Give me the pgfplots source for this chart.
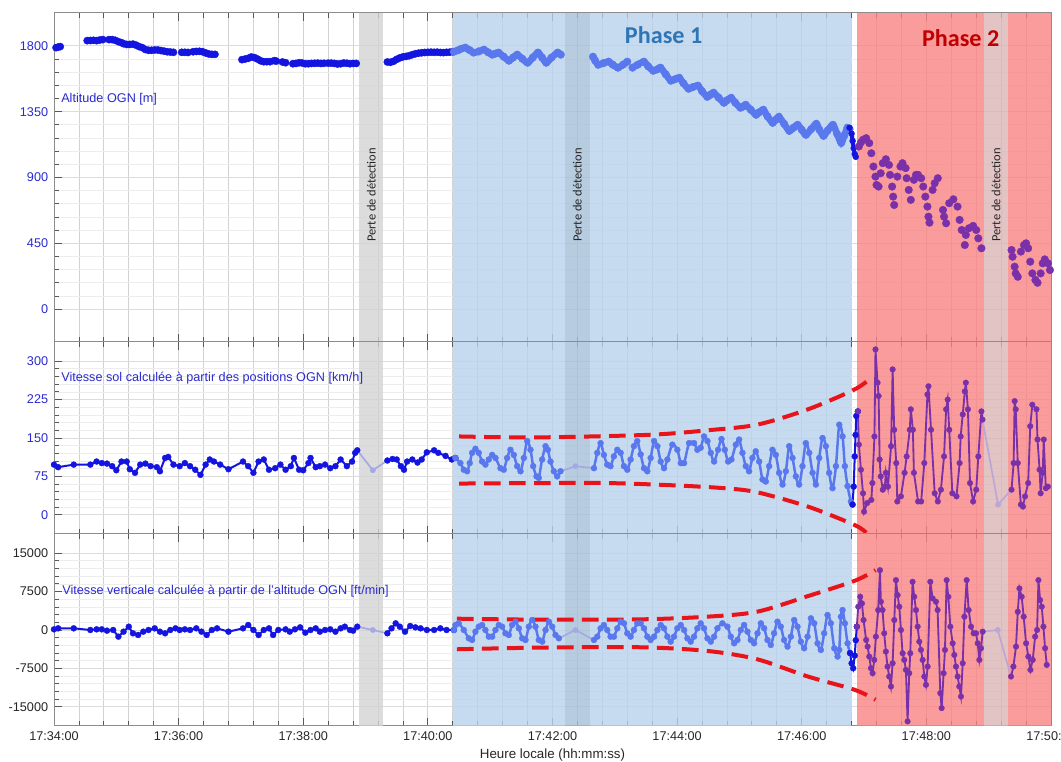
\documentclass[border=0pt]{standalone}
\usepackage{fontspec}
\setmainfont{Liberation Sans}
\newfontfamily\calib{Carlito}
\usepackage{pgfplots}
\pgfplotsset{compat=1.18}

\definecolor{preblue}{HTML}{1414E0}
\definecolor{ponebl}{HTML}{5A78EE}
\definecolor{ptwopu}{HTML}{7A30A8}
\definecolor{gapblue}{HTML}{A4A8E4}
\definecolor{gappu}{HTML}{BBA6D6}
\definecolor{phaseone}{HTML}{B8D2EC}
\definecolor{phasetwo}{HTML}{F98383}
\definecolor{lossgray}{HTML}{D3D3D3}
\definecolor{lossblue}{HTML}{A6BFD8}
\definecolor{lossred}{HTML}{DBB5B5}
\definecolor{labblue}{HTML}{2A2ACF}
\definecolor{envred}{HTML}{E8141A}
\definecolor{titleone}{HTML}{2E75B6}
\definecolor{titletwo}{HTML}{C00000}
\definecolor{framegray}{HTML}{8C8C8C}
\definecolor{gridv}{HTML}{D2D2D2}
\definecolor{gridh}{HTML}{DCDCDC}
\definecolor{gridm}{HTML}{EDEDED}

% time axis: seconds after 17:34:00
% shaded phases, translucent so that the grid stays visible
\newcommand{\bands}[2]{%
  \fill[phaseone, opacity=0.8] (axis cs:384.6,#1) rectangle (axis cs:492.5,#2);
  \fill[phaseone, opacity=0.8] (axis cs:515.7,#1) rectangle (axis cs:767,#2);
  \fill[phasetwo, opacity=0.8] (axis cs:773,#1) rectangle (axis cs:895.4,#2);
  \fill[phasetwo, opacity=0.8] (axis cs:918.5,#1) rectangle (axis cs:960,#2);
  \fill[lossgray, opacity=0.8] (axis cs:294,#1) rectangle (axis cs:317,#2);
  \fill[lossblue, opacity=0.8] (axis cs:492.5,#1) rectangle (axis cs:515.7,#2);
  \fill[lossred, opacity=0.8] (axis cs:895.4,#1) rectangle (axis cs:918.5,#2);
}

\tikzset{
  lab/.style={anchor=west, inner sep=0pt, font=\fontsize{7.6}{9}\selectfont, text=labblue},
  loss/.style={rotate=90, font=\calib\fontsize{7.5}{9}\selectfont, text=black!85},
}

\pgfplotsset{
  panel/.style={
    scale only axis, width=598.2pt,
    xmin=0, xmax=960,
    xtick={0,120,...,960},
    minor x tick num=4, minor y tick num=4,
    xmajorgrids, xminorgrids, ymajorgrids, yminorgrids,
    major x grid style={draw=gridv, line width=0.5pt},
    minor x grid style={draw=gridv, line width=0.5pt},
    major y grid style={draw=gridh, line width=0.55pt},
    minor y grid style={draw=gridm, line width=0.45pt},
    axis line style={draw=framegray, line width=0.6pt},
    tick align=inside, xtick pos=both, ytick pos=left,
    major tick length=5pt, minor tick length=3pt,
    tick style={draw=black!65, line width=0.5pt},
    /pgf/number format/assume math mode=true,
    /pgf/number format/1000 sep={},
    scaled y ticks=false,
    yticklabel style={font=\fontsize{7.6}{9}\selectfont, text=labblue},
    xticklabel style={font=\fontsize{7.6}{9}\selectfont, text=black!85},
    xticklabels={},
  },
  thinmark/.style={mark options={solid, line width=0.2pt}},
  gs/.style={line width=1.2pt, mark=*, mark size=1.8pt, thinmark},
  gsw/.style={line width=1.5pt, mark=*, mark size=1.8pt, thinmark, smooth},
  ph2/.style={line width=1.1pt, mark=*, mark size=1.7pt, color=ptwopu, thinmark},
  gap/.style={line width=1pt, mark=*, mark size=1.6pt, mark indices={2}, thinmark},
  wave/.style={color=ponebl, line width=4pt, smooth, mark=*, mark size=2.3pt, thinmark},
  env/.style={envred, line width=2.4pt, dash pattern=on 10pt off 5pt, smooth},
}

\begin{document}
\begin{tikzpicture}
\useasboundingbox (0,0) rectangle (636.6pt,457.2pt);

% ---------------- altitude ----------------
\begin{axis}[panel, at={(32.4pt,252pt)}, anchor=south west, height=197.4pt,
  ymin=-225, ymax=2025, ytick={0,450,900,1350,1800}]
\bands{-225}{2025}
\addplot[only marks, mark=*, mark size=2.2pt, color=preblue, thinmark] coordinates {
(2,1788)(4,1792)(6,1795)
(32,1836)(35,1837)(38,1838)(41,1836)(44,1840)(47,1843)
(53,1843)(56,1843)(59,1838)(62,1829)(65,1822)(67,1815)(70,1810)(73,1810)(76,1812)(79,1805)(82,1795)(85,1788)(88,1775)(91,1770)(94,1770)(97,1772)(100,1772)(103,1768)(106,1764)(109,1760)(112,1758)(115,1756)
(123,1756)(126,1756)(129,1755)
(134,1760)(137,1762)(140,1763)(143,1760)(146,1752)(149,1745)(152,1742)(155,1742)
(181,1706)(184,1710)(187,1715)(190,1724)(193,1720)(196,1710)(199,1698)(202,1692)(205,1692)(208,1692)
(212,1699)(214,1696)(220,1690)(223,1685)
(230,1678)(233,1680)(236,1685)(239,1683)(242,1678)(245,1678)(248,1680)(251,1681)(254,1682)(257,1680)(260,1681)(264,1682)(267,1682)(270,1680)(273,1676)(276,1678)(279,1683)(282,1681)(285,1678)(288,1680)(291,1680)
(321,1690)(324,1688)(327,1695)(330,1708)(333,1718)(336,1725)(339,1728)(342,1733)(345,1740)(348,1746)(351,1750)(354,1753)(357,1755)(360,1756)(363,1757)(366,1756)(369,1757)(372,1755)(375,1754)(378,1756)(381,1757)(384,1760)
};
\addplot[wave] coordinates {
(385,1760)(389,1770)(392,1780)(396,1788)(400,1772)(404,1754)(409,1762)(414,1774)(418,1756)(422,1740)(425,1747)(428,1754)(433,1726)(438,1699)(442,1720)(446,1740)(451,1712)(456,1685)(461,1720)(466,1754)(470,1720)(474,1685)(479,1720)(485,1754)(488,1740)
};
\addplot[wave] coordinates {
(519,1726)(521,1700)(524,1671)(529,1682)(534,1692)(538,1672)(543,1651)(548,1672)(552,1692)
};
\addplot[wave] coordinates {
(557,1651)(562,1671)(568,1692)(572,1661)(577,1630)(581,1640)(584,1651)(589,1606)(594,1562)(598,1572)(602,1582)(606,1545)(611,1507)(615,1518)(620,1528)(624,1490)(629,1452)(632,1466)(635,1480)(640,1446)(645,1411)(648,1428)(652,1445)(656,1411)(661,1377)(664,1387)(666,1397)(671,1363)(676,1329)(679,1346)(683,1363)(687,1318)(692,1274)(695,1295)(698,1315)(703,1267)(708,1219)(712,1240)(716,1260)(720,1226)(724,1192)(729,1230)(734,1267)(737,1226)(741,1185)(745,1222)(750,1260)(754,1198)(758,1137)(761,1188)(764,1240)(766,1230)
};
\addplot[color=preblue, line width=2.4pt, mark=*, mark size=1.8pt, thinmark] coordinates {
(766,1240)(768,1200)(769,1150)(770,1100)(771,1060)(772,1041)
};
\addplot[only marks, mark=*, mark size=2.3pt, color=ptwopu, thinmark] coordinates {
(775,1112)(777,1140)(779,1158)(782,1169)(785,1135)(787,1066)(789,975)(791,906)(792,849)(794,838)
(796,929)(798,998)(801,1025)(804,986)(805,918)(807,838)(808,769)(809,712)
(812,906)(815,975)(817,998)(820,964)(821,895)(823,815)(825,747)
(828,884)(830,918)(832,918)(835,895)(837,838)(839,769)(841,701)(842,632)(843,591)
(846,815)(848,861)(851,895)(856,678)(857,632)(859,587)
(862,724)(866,751)(870,701)(872,610)(874,541)(877,438)
(878,507)(881,553)(885,569)(888,541)(890,484)(893,416)
(922,404)(923,358)(925,290)(926,244)(928,221)(931,393)(934,438)(936,450)(938,416)(940,324)(942,244)(945,199)(947,180)(950,244)(952,313)(954,340)(957,313)(959,267)
};
\node[lab] at (axis cs:6.7,1432) {Altitude OGN [m]};
\node[loss] at (axis cs:305.5,781) {Perte de détection};
\node[loss] at (axis cs:504,781) {Perte de détection};
\node[loss] at (axis cs:907,781) {Perte de détection};
\node[font=\calib\bfseries\fontsize{14.5}{16}\selectfont, text=titleone] at (axis cs:587,1877) {Phase 1};
\node[font=\calib\bfseries\fontsize{14.5}{16}\selectfont, text=titletwo] at (axis cs:873,1856) {Phase 2};
\end{axis}

% ---------------- ground speed ----------------
\begin{axis}[panel, at={(32.4pt,136.8pt)}, anchor=south west, height=115.2pt,
  ymin=-37.5, ymax=337.5, ytick={0,75,150,225,300}]
\bands{-37.5}{337.5}
\addplot[gs, color=preblue] coordinates {
(0,98)(4,93)(19,98)(35,98)(41,104)(46,101)(51,100)(56,95)(60,87)(65,104)(70,104)(73,89)(78,82)(83,98)(88,100)(93,95)(99,93)(102,85)(107,111)(110,113)(115,98)(121,95)(126,101)(131,95)(136,88)(141,78)(146,98)(150,108)(154,104)(160,98)(168,89)(182,104)(187,95)(192,82)(197,104)(202,108)(207,88)(213,91)(218,98)(223,88)(228,95)(231,111)(236,88)(240,87)(245,101)(247,111)(252,93)(256,95)(261,98)(266,91)(271,95)(276,108)(282,95)(287,104)(290,121)(292,126)
};
\addplot[gap, color=gapblue] coordinates {(292,126)(307,87)(321,106)};
\addplot[gs, color=preblue] coordinates {
(321,106)(326,109)(330,108)(334,95)(337,88)(340,104)(345,108)(350,102)(354,108)(359,122)(366,126)(370,121)(377,115)(383,108)(386.5,111)
};
\addplot[gsw, color=ponebl] coordinates {
(386.5,111)(391.3,101)(394.6,88)(397.8,85)(400.3,101)(402.6,121)(405.8,129)(409,121)(412.2,104)(415.4,98)(418.6,108)(421.9,117)(425.1,111)(429.9,91)(433.1,88)(436.3,111)(439.5,127)(442.7,117)(446,95)(449.2,85)(452.4,111)(455.6,144)(458.8,127)(461.4,95)(464.6,75)(466.8,72)(470,108)(473.3,134)(475.5,127)(478.1,104)(481.3,85)(484.5,75)(487.7,85)
};
\addplot[gap, color=gapblue] coordinates {(487.7,85)(502.2,95)(519.9,91)};
\addplot[gsw, color=ponebl] coordinates {
(519.9,91)(523.1,121)(526.3,140)(529.5,117)(532.7,98)(535.9,95)(539.1,114)(542.4,127)(545.6,121)(548.8,95)(552,88)(555.2,108)(558.4,134)(561.6,144)(564.9,118)(568.1,91)(571.3,85)(574.5,111)(577.8,144)(581,134)(584.2,104)(587.4,91)(590.6,108)(595.4,137)(600.2,127)(603.5,101)(606.7,101)(611.5,140)(616.3,140)(619.5,127)(622.7,131)(625.9,153)(629.2,144)(632.4,121)(635.6,104)(639.4,127)(642.7,148)(645.9,127)(649.1,104)(652.3,108)(656.5,137)(659.7,147)(662.9,121)(666.1,95)(669.3,85)(672.5,111)(675.7,124)(679,104)(682.2,69)(685.4,65)(688.6,95)(691.8,127)(695,117)(698.2,82)(701.5,59)(704.7,85)(707.9,134)(711.1,111)(714.3,75)(717.5,59)(720.7,95)(723.9,140)(727.2,121)(730.4,82)(733.6,59)(736.8,111)(740,150)(743.2,134)(746.4,82)(749.6,52)(752.9,95)(756.1,176)(759.3,153)(761.5,95)(764.1,56)(767.3,26)(768.9,20)
};
\addplot[gs, color=preblue] coordinates {(768.9,20)(770,55)(771,114)(771.8,156)(772.5,193)(774,202)};
\addplot[ph2] coordinates {
(774,202)(775,137)(777,88)(779,42)(780,6)(783,23)(787,29)(788,62)(790,153)(791,323)(793,258)(794,232)(795,108)(796,75)(798,49)(800,55)(801,82)(803,55)(806,134)(807.5,284)(809,166)(811,101)(812,26)(815.5,36)(819,82)(821,114)(824,166)(825,206)(827,166)(828,82)(832,26)(835,26)(838,101)(841,235)(842,251)(844.5,166)(848,42)(851,26)(854,49)(857,114)(859,206)(860.5,225)(862,166)(865,42)(869,36)(872,101)(873,153)(875,196)(877,241)(878,258)(880,206)(882,62)(885,26)(888,49)(890,114)(893,202)(894,186)
};
\addplot[gap, color=gappu] coordinates {(894,186)(909,20)(922,49)};
\addplot[ph2] coordinates {
(922,49)(924,101)(925,222)(926,206)(928,101)(931,20)(933,16)(935,36)(938,62)(940,173)(942,215)(946,206)(947,147)(949,88)(950,42)(952,82)(953,147)(955,52)(957,55)
};
\addplot[env] coordinates {(390,153)(452,151)(517,153)(581,157)(629,165)(677,176)(726,206)(771,245)(787,268)};
\addplot[env] coordinates {(390,61)(469,62)(533,62)(597,57.5)(645,52)(677,44)(726,16)(771,-20)(782,-35)};
\node[lab] at (axis cs:6.7,266) {Vitesse sol calculée à partir des positions OGN [km/h]};
\end{axis}

% ---------------- vertical speed ----------------
\begin{axis}[panel, at={(32.4pt,21.6pt)}, anchor=south west, height=115.2pt,
  ymin=-18750, ymax=18750, ytick={-15000,-7500,0,7500,15000},
  yticklabel style={text=black!85},
  xticklabels={17:34:00,17:36:00,17:38:00,17:40:00,17:42:00,17:44:00,17:46:00,17:48:00,17:50:00},
  xlabel={Heure locale (hh:mm:ss)},
  xlabel style={font=\fontsize{8}{9}\selectfont, text=black!85, inner sep=1pt}]
\bands{-18750}{18750}
\addplot[gs, color=preblue] coordinates {
(0,130)(4,325)(19,325)(35,0)(41,130)(46,130)(51,-130)(57,0)(62,-1299)(67,-325)(72,649)(76,-649)(81,-974)(86,-325)(91,0)(97,325)(102,-325)(107,-649)(112,0)(117,325)(121,0)(126,130)(131,0)(137,325)(142,-325)(147,-974)(152,0)(157,325)(168,-325)(182,325)(187,974)(192,0)(197,-974)(202,0)(207,325)(211,-974)(216,0)(223,130)(227,-325)(232,130)(237,519)(242,-519)(247,0)(252,325)(256,-325)(261,0)(266,130)(271,-325)(276,325)(280,649)(285,0)(288,-130)(292,649)
};
\addplot[gap, color=gapblue] coordinates {(292,649)(307,0)(321,-649)};
\addplot[gs, color=preblue] coordinates {
(321,-649)(325,325)(329,1299)(333,649)(338,-325)(343,779)(348,519)(353,325)(359,0)(366,0)(372,325)(378,0)(385,0)
};
\addplot[gsw, color=ponebl] coordinates {
(385,0)(386.5,974)(389.7,1299)(394.6,0)(399.4,-1623)(402.6,-1948)(405.8,-325)(409,650)(412.2,974)(415.4,0)(418.7,-1299)(421.9,-1299)(425.1,0)(428.3,974)(431.5,650)(434.7,-649)(437.9,-974)(441.1,974)(444.4,1624)(447.6,325)(450.8,-1623)(454,-1948)(457.2,650)(460.4,1948)(463.6,650)(466.8,-1948)(470.1,-2272)(473.3,0)(476.5,1624)(479.7,650)(482.9,-974)(486.1,-1623)
};
\addplot[gap, color=gapblue] coordinates {(486.1,-1623)(502.2,0)(519.9,-1948)};
\addplot[gsw, color=ponebl] coordinates {
(519.9,-1948)(523.1,-1299)(526.3,325)(529.5,974)(532.7,0)(535.9,-1299)(539.1,-1299)(542.4,325)(545.6,1624)(548.8,1299)(552,-649)(555.2,-1299)(558.4,0)(561.6,1299)(564.9,1299)(568.1,325)(571.3,-1299)(574.5,-1948)(577.8,-1299)(581,0)(584.2,974)(587.4,325)(590.6,-1299)(593.8,-2272)(597,-1299)(600.2,325)(603.5,974)(606.7,0)(609.9,-1623)(613.1,-2272)(616.3,-1299)(619.5,325)(622.7,1299)(625.9,325)(629.2,-1623)(632.4,-2272)(635.6,-1299)(638.8,325)(643.6,1299)(648.4,650)(651.7,-1299)(654.9,-2597)(658.1,-1948)(661.3,0)(664.5,974)(667.7,-325)(670.9,-1948)(674.1,-2597)(677.4,-649)(680.6,1299)(683.8,325)(687,-1948)(690.2,-2921)(693.4,-649)(696.6,1624)(699.8,650)(703,-1948)(706.3,-3246)(709.5,-1299)(712.7,1948)(715.9,650)(719.1,-2272)(722.3,-3571)(725.6,-1299)(728.8,2273)(732,1299)(735.2,-2597)(738.4,-3895)(741.6,-649)(744.8,2922)(748,1299)(751.3,-3571)(754.5,-5194)(756.1,-3895)(757.7,2597)(759.3,3896)(761.5,1299)(764.1,-2597)(766.5,-4500)
};
\addplot[gs, color=preblue] coordinates {(766.5,-4500)(768,-6500)(769.5,-7466)(771,-5000)(772,-2000)(773,649)};
\addplot[ph2] coordinates {
(773,649)(774.4,4546)(776.3,6494)(778,5195)(779.5,1949)(782,-1947)(783.4,-3245)(785,-5193)(786.6,-7466)(788.2,-8440)(789.8,-5843)(791.4,-1298)(793.6,3897)(795.3,11689)(796.2,5520)(797.8,3897)(799.4,-648)(801,-4219)(802.6,-7141)(804.2,-9089)(805.9,-11037)(807.5,-6492)(809.1,1949)(810.7,9741)(812.3,6819)(813.9,4546)(815.5,0)(817.1,-4544)(818.7,-5843)(820.3,-7790)(821.9,-17855)(823.5,-8440)(824.5,-4544)(826.7,9416)(828.3,6494)(830,3897)(831.6,649)(833.2,-2271)(834.8,-3895)(836.4,-5843)(838,-9089)(839.6,-10712)(841.2,-7141)(843.8,9416)(846,6170)(849.2,5520)(850.8,3897)(853.4,-12336)(854.7,-15258)(856.6,-8440)(857.9,-3895)(859.5,9741)(861.1,6494)(863.1,649)(865.3,-2596)(866.9,-4869)(868.5,-7141)(870.1,-9089)(871.7,-11037)(873.3,-12985)(875,-6492)(876.6,2598)(878.8,9741)(880.7,3897)(883,649)(885.5,-648)(887.8,-648)(889.4,-2596)(891,-5843)(892.6,-3570)(894.2,-325)
};
\addplot[gap, color=gappu] coordinates {(894.2,-325)(908.7,0)(921.5,-9089)};
\addplot[ph2] coordinates {
(921.5,-9089)(923.8,-7141)(926.3,-3245)(928,3573)(929.6,8117)(931.8,6494)(933.7,2598)(936,-2596)(938.2,-5193)(940.2,-7790)(942.4,-5843)(944.7,-1298)(946.6,1)(947.9,9741)(949.5,5845)(951.1,4546)(952.7,649)(954.3,-3570)(955.9,-6817)
};
\addplot[env] coordinates {(388,2209)(469,2014)(565,2079)(629,2598)(677,3573)(726,6624)(771,9611)(791,11689)};
\addplot[env] coordinates {(388,-3765)(469,-3440)(565,-3375)(629,-4089)(677,-5713)(726,-9089)(771,-11686)(791,-13634)};
\node[lab] at (axis cs:7.7,7597) {Vitesse verticale calculée à partir de l'altitude OGN [ft/min]};
\end{axis}
\end{tikzpicture}
\end{document}
